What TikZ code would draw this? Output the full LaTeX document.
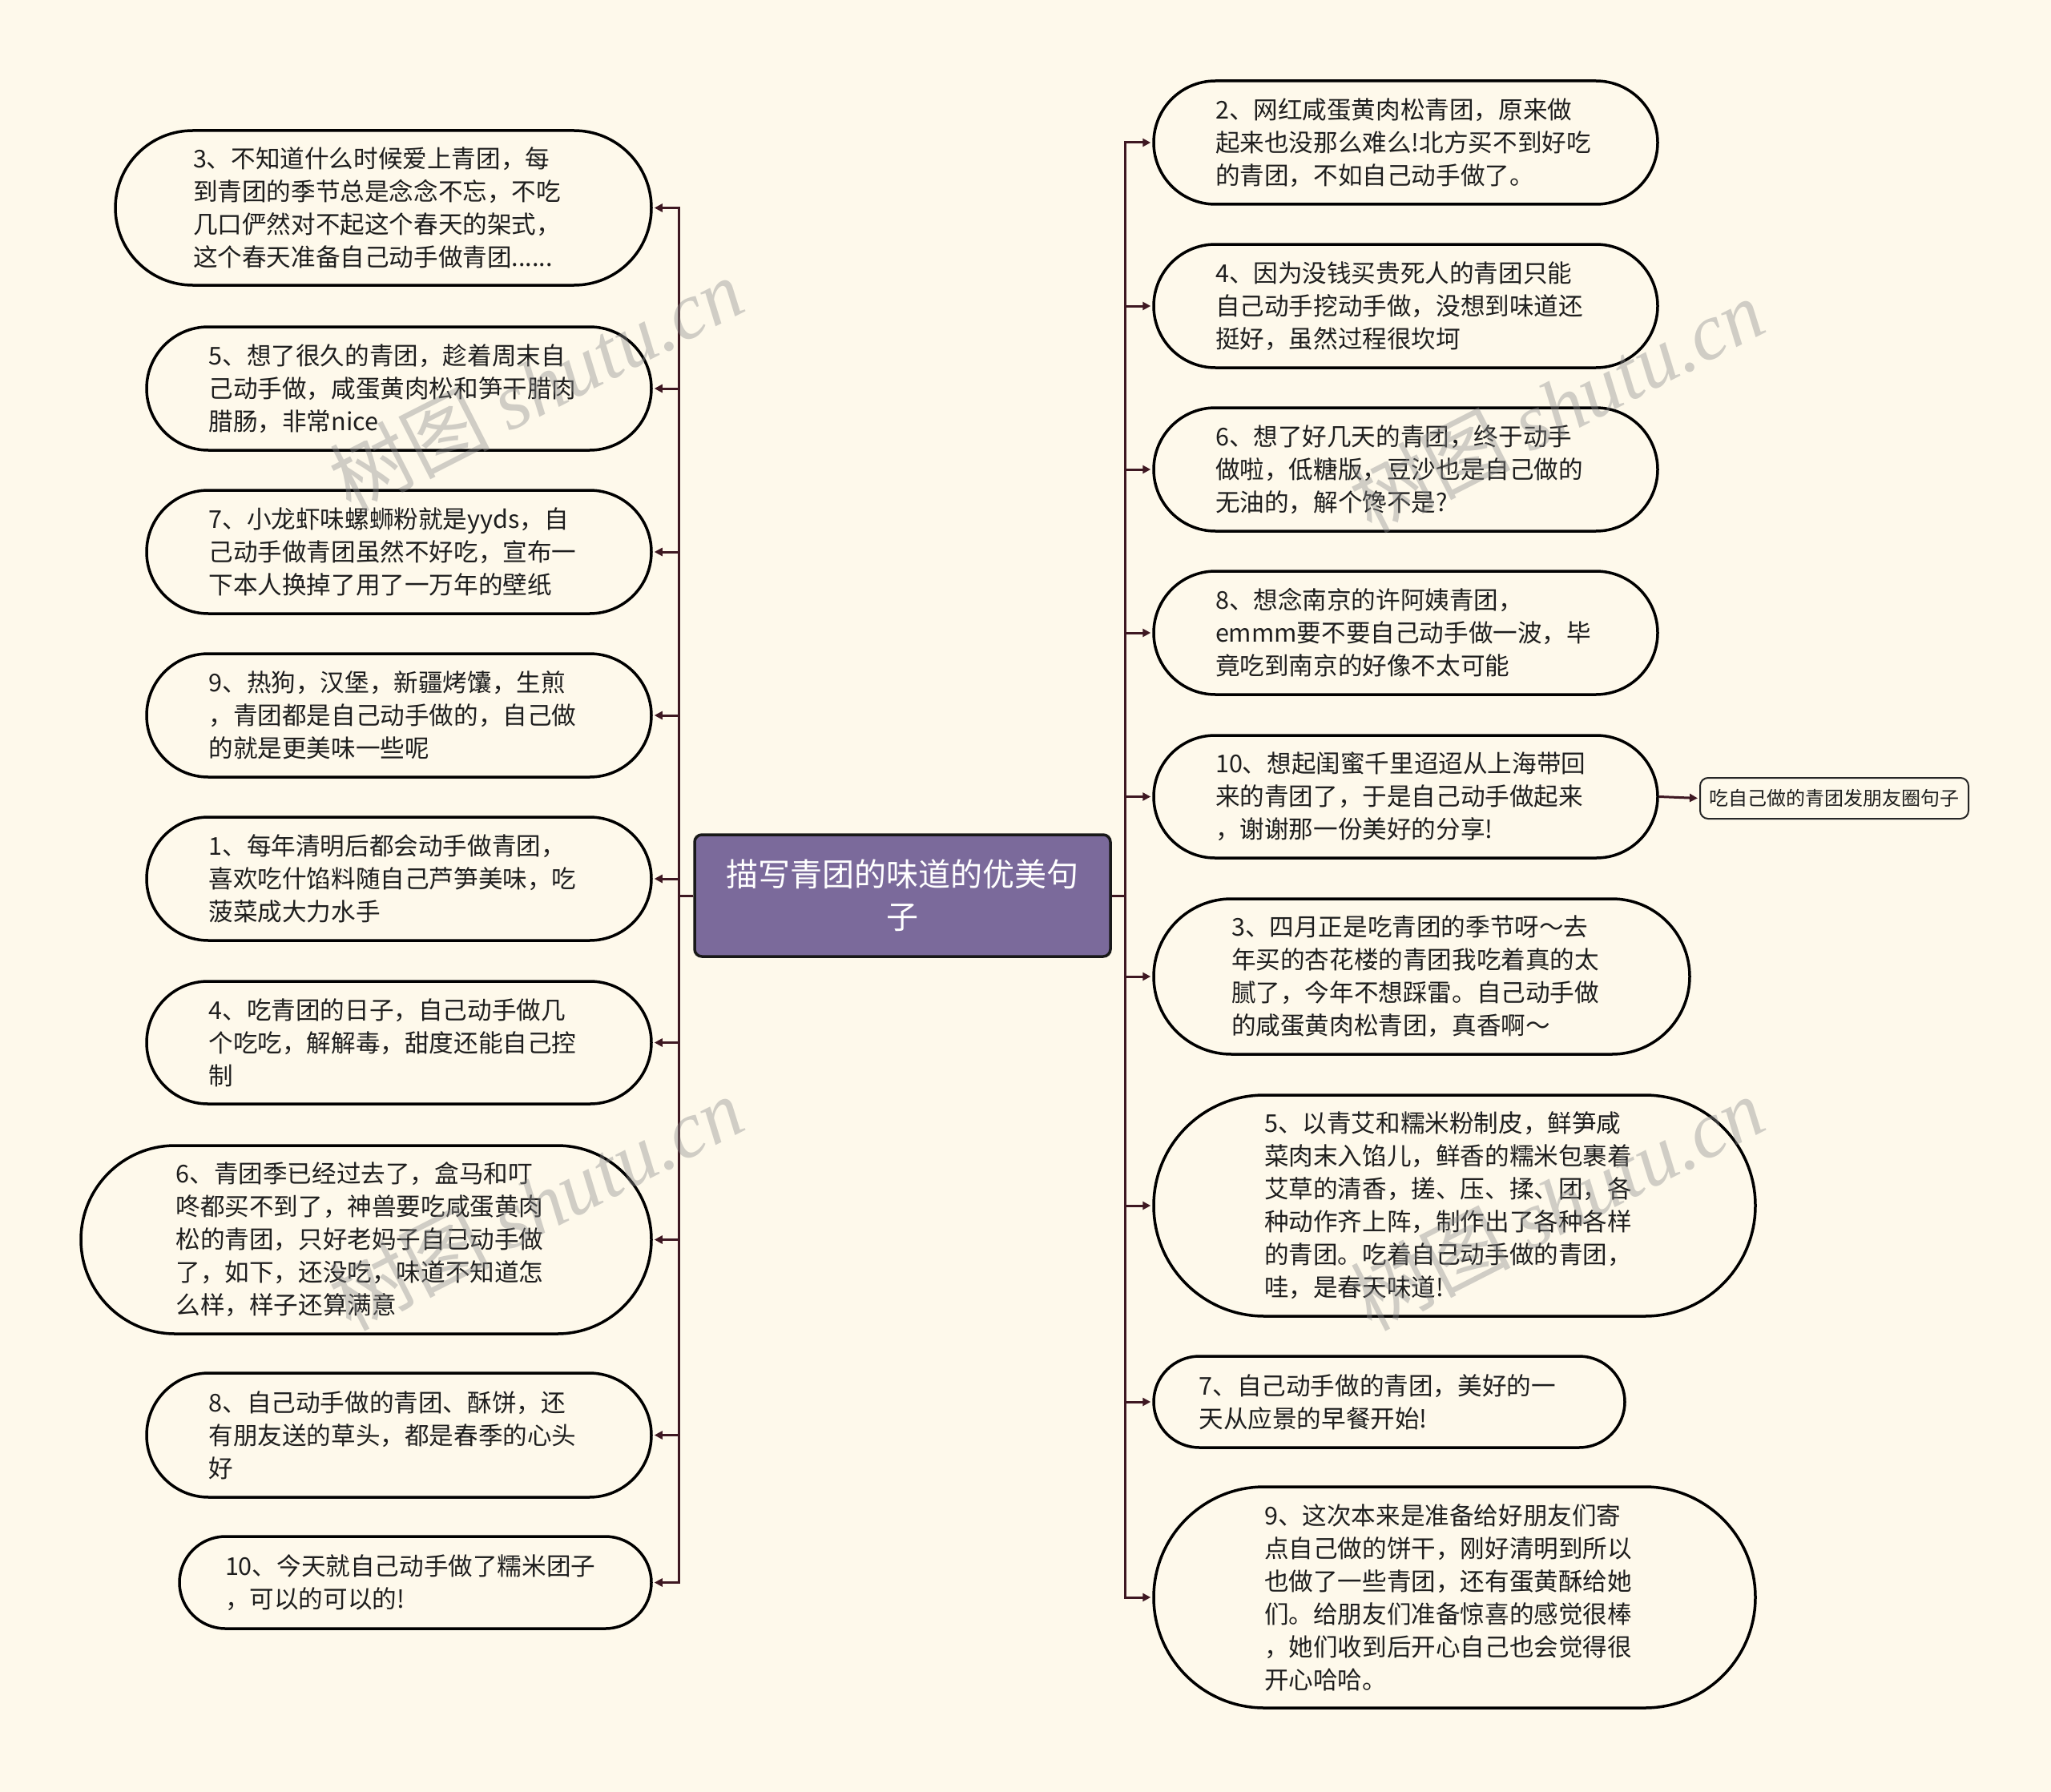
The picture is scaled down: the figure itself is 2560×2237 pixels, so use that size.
\documentclass[tikz,border=0pt]{standalone}
\usepackage{fontspec}
\setmainfont{Noto Sans CJK SC}
\newfontfamily\wmserif{Liberation Serif}
\usetikzlibrary{arrows.meta}
\definecolor{bg}{HTML}{FEF9EB}
\definecolor{linec}{HTML}{3E1822}
\definecolor{rootfill}{HTML}{7B6A9B}
\definecolor{txtc}{HTML}{1E1E1E}
\begin{document}
\begin{tikzpicture}[x=1pt,y=-1pt,
  leaf/.style={rectangle, draw=black, line width=3.5pt, fill=bg,
    rounded corners=#1/2, minimum height=#1,
    text width=475pt, align=left, inner xsep=0pt, inner ysep=0pt, text=txtc,
    font=\fontsize{30.6}{41}\selectfont},
  rootbox/.style={rectangle, rounded corners=9pt, draw=black!90, line width=3.5pt,
    fill=rootfill, text=white, align=center, inner sep=0pt,
    minimum width=519pt, minimum height=152pt, font=\fontsize{40}{53}\selectfont},
  subbox/.style={rectangle, rounded corners=10pt, draw=black!85, line width=2pt,
    fill=bg, inner sep=0pt, minimum width=335pt, minimum height=51pt, text=txtc,
    font=\fontsize{24}{30}\selectfont},
  conn/.style={draw=linec, line width=3pt, shorten >=2pt,
    -{Triangle[length=10pt,width=10pt]}},
  wmark/.style={text=black!45, opacity=0.4, rotate=27,
    font=\fontsize{100}{110}\selectfont}
]
\useasboundingbox (0,0) rectangle (2560,2237);
\fill[bg] (0,0) rectangle (2560,2237);

% root
\node[rootbox] (C) at (1126.5,1118) {描写青团的味道的优美句\\子};

% left branch
\node[leaf=193pt, minimum width=669pt] (L1) at (478.5,259.5) {3、不知道什么时候爱上青团，每\\到青团的季节总是念念不忘，不吃\\几口俨然对不起这个春天的架式，\\这个春天准备自己动手做青团......};
\node[leaf=154pt, minimum width=630pt] (L2) at (498,485) {5、想了很久的青团，趁着周末自\\己动手做，咸蛋黄肉松和笋干腊肉\\腊肠，非常nice};
\node[leaf=154pt, minimum width=630pt] (L3) at (498,689) {7、小龙虾味螺蛳粉就是yyds，自\\己动手做青团虽然不好吃，宣布一\\下本人换掉了用了一万年的壁纸};
\node[leaf=154pt, minimum width=630pt] (L4) at (498,893) {9、热狗，汉堡，新疆烤馕，生煎\\，青团都是自己动手做的，自己做\\的就是更美味一些呢};
\node[leaf=154pt, minimum width=630pt] (L5) at (498,1097) {1、每年清明后都会动手做青团，\\喜欢吃什馅料随自己芦笋美味，吃\\菠菜成大力水手};
\node[leaf=153pt, minimum width=630pt] (L6) at (498,1301.5) {4、吃青团的日子，自己动手做几\\个吃吃，解解毒，甜度还能自己控\\制};
\node[leaf=235pt, minimum width=712pt] (L7) at (457,1547.5) {6、青团季已经过去了，盒马和叮\\咚都买不到了，神兽要吃咸蛋黄肉\\松的青团，只好老妈子自己动手做\\了，如下，还没吃，味道不知道怎\\么样，样子还算满意};
\node[leaf=155pt, minimum width=630pt] (L8) at (498,1791.5) {8、自己动手做的青团、酥饼，还\\有朋友送的草头，都是春季的心头\\好};
\node[leaf=115pt, minimum width=589pt] (L9) at (518.5,1975.5) {10、今天就自己动手做了糯米团子\\，可以的可以的!};

% right branch
\node[leaf=154pt, minimum width=629pt] (R1) at (1754.5,178) {2、网红咸蛋黄肉松青团，原来做\\起来也没那么难么!北方买不到好吃\\的青团，不如自己动手做了。};
\node[leaf=154pt, minimum width=629pt] (R2) at (1754.5,382) {4、因为没钱买贵死人的青团只能\\自己动手挖动手做，没想到味道还\\挺好，虽然过程很坎坷};
\node[leaf=154pt, minimum width=629pt] (R3) at (1754.5,586) {6、想了好几天的青团，终于动手\\做啦，低糖版，豆沙也是自己做的\\无油的，解个馋不是?};
\node[leaf=154pt, minimum width=629pt] (R4) at (1754.5,790) {8、想念南京的许阿姨青团，\\emmm要不要自己动手做一波，毕\\竟吃到南京的好像不太可能};
\node[leaf=153pt, minimum width=629pt] (R5) at (1754.5,994.5) {10、想起闺蜜千里迢迢从上海带回\\来的青团了，于是自己动手做起来\\，谢谢那一份美好的分享!};
\node[leaf=194pt, minimum width=669pt] (R6) at (1774.5,1219) {3、四月正是吃青团的季节呀～去\\年买的杏花楼的青团我吃着真的太\\腻了，今年不想踩雷。自己动手做\\的咸蛋黄肉松青团，真香啊～};
\node[leaf=276pt, minimum width=751pt] (R7) at (1815.5,1505) {5、以青艾和糯米粉制皮，鲜笋咸\\菜肉末入馅儿，鲜香的糯米包裹着\\艾草的清香，搓、压、揉、团，各\\种动作齐上阵，制作出了各种各样\\的青团。吃着自己动手做的青团，\\哇，是春天味道!};
\node[leaf=114pt, minimum width=588pt] (R8) at (1734,1750) {7、自己动手做的青团，美好的一\\天从应景的早餐开始!};
\node[leaf=276pt, minimum width=751pt] (R9) at (1815.5,1994) {9、这次本来是准备给好朋友们寄\\点自己做的饼干，刚好清明到所以\\也做了一些青团，还有蛋黄酥给她\\们。给朋友们准备惊喜的感觉很棒\\，她们收到后开心自己也会觉得很\\开心哈哈。};

\node[subbox] (S) at (2289.5,996.5) {吃自己做的青团发朋友圈句子};

% connectors
\coordinate (TL) at (847,1118);
\coordinate (TR) at (1404,1118);
\foreach \n in {L1,L2,L3,L4,L5,L6,L7,L8,L9}
  \draw[conn] (C.west) -- (TL) |- (\n.east);
\foreach \n in {R1,R2,R3,R4,R5,R6,R7,R8,R9}
  \draw[conn] (C.east) -- (TR) |- (\n.west);
\draw[conn] (R5.east) -- (S.west);

% watermarks
\node[wmark] (W1) at (669,480) {树图 {\wmserif\itshape shutu.cn}};
\node[wmark] (W2) at (1943,506) {树图 {\wmserif\itshape shutu.cn}};
\node[wmark] (W3) at (669,1502) {树图 {\wmserif\itshape shutu.cn}};
\node[wmark] (W4) at (1943,1502) {树图 {\wmserif\itshape shutu.cn}};
\end{tikzpicture}
\end{document}
